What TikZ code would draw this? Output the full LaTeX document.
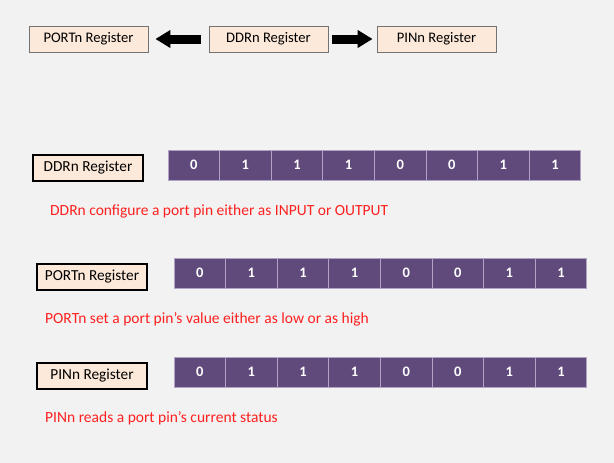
\documentclass[tikz,border=0pt]{standalone}
\usepackage{fontspec}
\setmainfont{Carlito}
\usetikzlibrary{arrows.meta}
\definecolor{bg}{HTML}{F2F2F2}
\definecolor{peach}{HTML}{FDE9D9}
\definecolor{bitfill}{HTML}{604A7B}
\definecolor{bitline}{HTML}{B0A3C4}
\definecolor{redtxt}{HTML}{FF2020}
\tikzset{
  topbox/.style={draw=black!55, line width=0.8pt, fill=peach, minimum width=119pt, minimum height=26pt, inner sep=0pt, font=\fontsize{14.6}{16}\selectfont},
  regbox/.style={draw=black, line width=1.6pt, fill=peach, minimum width=110pt, minimum height=26pt, inner sep=0pt, font=\fontsize{15.3}{17}\selectfont},
  bitcell/.style={draw=bitline, line width=0.8pt, fill=bitfill, text=white, minimum width=51.6pt, minimum height=30pt, inner sep=0pt, font=\bfseries\fontsize{14.5}{16}\selectfont},
  note/.style={text=redtxt, anchor=west, inner sep=0pt, font=\fontsize{15.5}{17}\selectfont},
  bigarrow/.style={line width=9pt, -{Triangle[length=15pt,width=17pt]}}
}
\begin{document}
\begin{tikzpicture}[x=1pt,y=-1pt]
\fill[bg] (0,0) rectangle (614,463);
\useasboundingbox (0,0) rectangle (614,463);
% top row
\node[topbox] (tport) at (88.5,39) {PORTn Register};
\node[topbox] (tddr) at (268.5,39) {DDRn Register};
\node[topbox] (tpin) at (436.5,39) {PINn Register};
\draw[bigarrow, shorten <=8pt, shorten >=7pt] (tddr.west) -- (tport.east);
\draw[bigarrow, shorten <=4pt, shorten >=4pt] (tddr.east) -- (tpin.west);
% row 1
\node[regbox] (rddr) at (88,168) {DDRn Register};
\foreach \b [count=\i from 0] in {0,1,1,1,0,0,1,1} {
  \node[bitcell] (d\i) at ({168+25.8+51.6*\i},165) {\b};
}
\node[note] (nddr) at (50,211) {DDRn configure a port pin either as INPUT or OUTPUT};
% row 2
\node[regbox] (rport) at (92,277) {PORTn Register};
\foreach \b [count=\i from 0] in {0,1,1,1,0,0,1,1} {
  \node[bitcell] (p\i) at ({174+25.8+51.6*\i},273) {\b};
}
\node[note] (nport) at (45,319) {PORTn set a port pin’s value either as low or as high};
% row 3
\node[regbox] (rpin) at (92,376) {PINn Register};
\foreach \b [count=\i from 0] in {0,1,1,1,0,0,1,1} {
  \node[bitcell] (i\i) at ({174+25.8+51.6*\i},372) {\b};
}
\node[note] (npin) at (45,418) {PINn reads a port pin’s current status};
\end{tikzpicture}
\end{document}
